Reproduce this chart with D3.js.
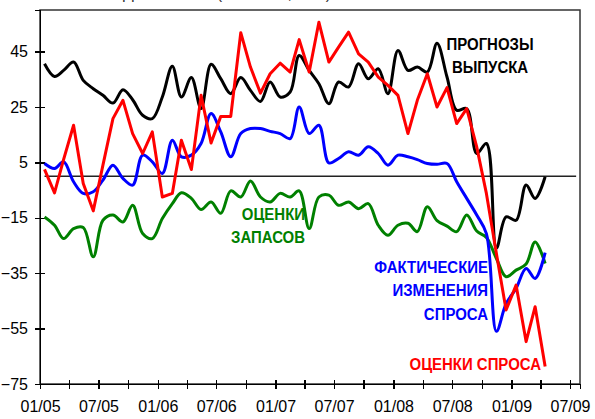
<!DOCTYPE html>
<html>
<head>
<meta charset="utf-8">
<script src="https://d3js.org/d3.v7.min.js"></script>
<style>
  body { margin: 0; background: #fff; }
  svg { display: block; font-family: "Liberation Sans", Arial, sans-serif; }
  .axis text { font-size: 16px; fill: #000; }
  .axis path, .axis line { stroke: #000; stroke-width: 1.5px; shape-rendering: crispEdges; }
  .lbl { font-family: "Liberation Sans", Arial, sans-serif; font-weight: bold; font-size: 17px; }
</style>
</head>
<body>
<script>
// monthly, Jan 2005 .. Apr 2009
var startYear = 2005, startMonth = 0;

var output = [40.6, 36, 38.2, 41.2, 34.6, 31.6, 29.2, 26.4, 31.2, 27.6, 22, 20.8,
  28.6, 39.7, 28.6, 35.6, 24.4, 40.4, 35.2, 29.8, 35.6, 31, 27, 34,
  28.6, 30.4, 43.6, 38.2, 33.4, 26.2, 34, 32.2, 40.6, 35.2, 38.8, 29.8,
  45.4, 38.2, 39.4, 37.6, 48, 35.8, 23.8, 24.4, 8.2, 11.8, -26, -14.7,
  -15.9, -3.2, -8, -0.2];

var demandEst = [2.5, -6, 6, 18.4, -2.6, -12.5, 4, 20.8, 27.4, 15.4, 8.2, 16,
  -7.5, -6.2, 13, 2.4, 29.2, 12, 21.6, 21.6, 51.8, 39.4, 30, 37,
  40.8, 37.6, 49.3, 37.6, 55.6, 41.2, 46.6, 52, 44.2, 41.2, 35.8, 32.8,
  29.2, 15.4, 27.4, 37, 25, 32, 19, 24.4, 10.6, -6.2, -27.9, -48.3,
  -39.3, -59.7, -47.1, -68.7];

var demandAct = [4.6, 2.8, 5.2, -2, -6.2, -5.6, -1.4, 4, -0.8, -3.2, 7.6, 5.2,
  1, 13, 7, 7.6, 11.8, 22.6, 16, 7, 15.4, 17.2, 17.2, 16.2,
  15.4, 13.6, 25, 15.4, 18.4, 4.8, 6.4, 8.8, 7.6, 10.6, 8.2, 4,
  7.6, 7, 6, 4.6, 4.3, 4.6, -2, -8, -14, -20.7, -56, -46,
  -40.5, -33.3, -36.9, -27.6];

var stocks = [-14.7, -17.7, -22.5, -18.9, -18.5, -29.1, -15.9, -14, -16.5, -10.5, -20.7, -22.5,
  -15.3, -9.9, -6, -8, -12, -9.3, -13.4, -5.3, -7.5, -1.7, -7.5, -9.3,
  -6.2, -7.5, -5.3, -18.9, -7.5, -6.8, -10.5, -9.3, -11.7, -9.9, -17.7, -21.3,
  -17.7, -17, -20, -11, -16, -18, -20, -14, -19.8, -22.1, -29.7, -36.3,
  -33.9, -31.7, -23.7, -31.5];

var yTicks = [-75, -55, -35, -15, 5, 25, 45];

var W = 595, H = 419;
var margin = {top: 10, right: 15, bottom: 35, left: 40};

var dates = output.map(function(d, i) { return new Date(startYear, startMonth + i, 15); });

var x = d3.scaleTime()
    .domain([new Date(2005, 0, 1), new Date(2009, 7, 1)])
    .range([margin.left, W - margin.right]);
var y = d3.scaleLinear()
    .domain([-75, 60])
    .range([H - margin.bottom, margin.top]);

var svg = d3.select("body").append("svg")
    .attr("width", W)
    .attr("height", H);

svg.append("rect").attr("width", W).attr("height", H).attr("fill", "#fff");

// title, mostly cut off at the top edge (as in the source image)
svg.append("text")
    .attr("x", 100).attr("y", -1)
    .attr("font-size", 16)
    .attr("fill", "#333")
    .text("ИНДЕКСЫ PMI (БАЛАНС, В %)");

// frame
svg.append("rect")
    .attr("x", margin.left).attr("y", margin.top)
    .attr("width", W - margin.right - margin.left)
    .attr("height", H - margin.bottom - margin.top)
    .attr("fill", "none")
    .attr("stroke", "#333")
    .attr("stroke-width", 1.5);

// zero line
svg.append("line")
    .attr("x1", x(dates[0])).attr("x2", x(new Date(2009, 6, 20)))
    .attr("y1", y(0)).attr("y2", y(0))
    .attr("stroke", "#222").attr("stroke-width", 1.5);

var yAxis = svg.append("g")
    .attr("class", "axis")
    .attr("transform", "translate(" + margin.left + ",0)")
    .call(d3.axisLeft(y).tickValues(yTicks).tickSize(5).tickPadding(7));
yAxis.selectAll(".tick line").attr("x1", 5);
yAxis.select(".domain").attr("stroke-width", 2);

var xAxis = svg.append("g")
    .attr("class", "axis")
    .attr("transform", "translate(0," + (H - margin.bottom) + ")")
    .call(d3.axisBottom(x)
      .ticks(d3.timeMonth.every(3))
      .tickSize(5)
      .tickPadding(12)
      .tickFormat(function(d) { return d.getMonth() % 6 === 0 ? d3.timeFormat("%m/%y")(d) : ""; }));
xAxis.selectAll(".tick line").attr("y1", -4);
xAxis.select(".domain").attr("stroke-width", 2);

function drawLine(vals, color, curve) {
  var line = d3.line()
      .x(function(d, i) { return x(dates[i]); })
      .y(function(d) { return y(d); })
      .curve(curve);
  svg.append("path")
      .datum(vals)
      .attr("fill", "none")
      .attr("stroke", color)
      .attr("stroke-width", 3)
      .attr("stroke-linejoin", "round")
      .attr("d", line);
}

drawLine(stocks, "#008000", d3.curveCatmullRom);
drawLine(output, "#000000", d3.curveCatmullRom);
drawLine(demandAct, "#0000ff", d3.curveCatmullRom);
drawLine(demandEst, "#ff0000", d3.curveLinear);

// labels are set in a condensed bold face in the original, so squeeze them
function label(lines, x0, y0, anchor, color) {
  var t = svg.append("text")
      .attr("class", "lbl")
      .attr("text-anchor", anchor)
      .attr("fill", color)
      .attr("transform", "translate(" + x0 + "," + y0 + ") scale(0.88,1)");
  lines.forEach(function(s, i) {
    t.append("tspan").attr("x", 0).attr("y", i * 23.5).text(s);
  });
}

label(["ПРОГНОЗЫ", "ВЫПУСКА"], 490, 50, "middle", "#000");
label(["ОЦЕНКИ", "ЗАПАСОВ"], 305, 220, "end", "#008000");
label(["ФАКТИЧЕСКИЕ", "ИЗМЕНЕНИЯ", "СПРОСА"], 488, 273, "end", "#0000ff");
label(["ОЦЕНКИ СПРОСА"], 541, 370, "end", "#ff0000");
</script>
</body>
</html>
